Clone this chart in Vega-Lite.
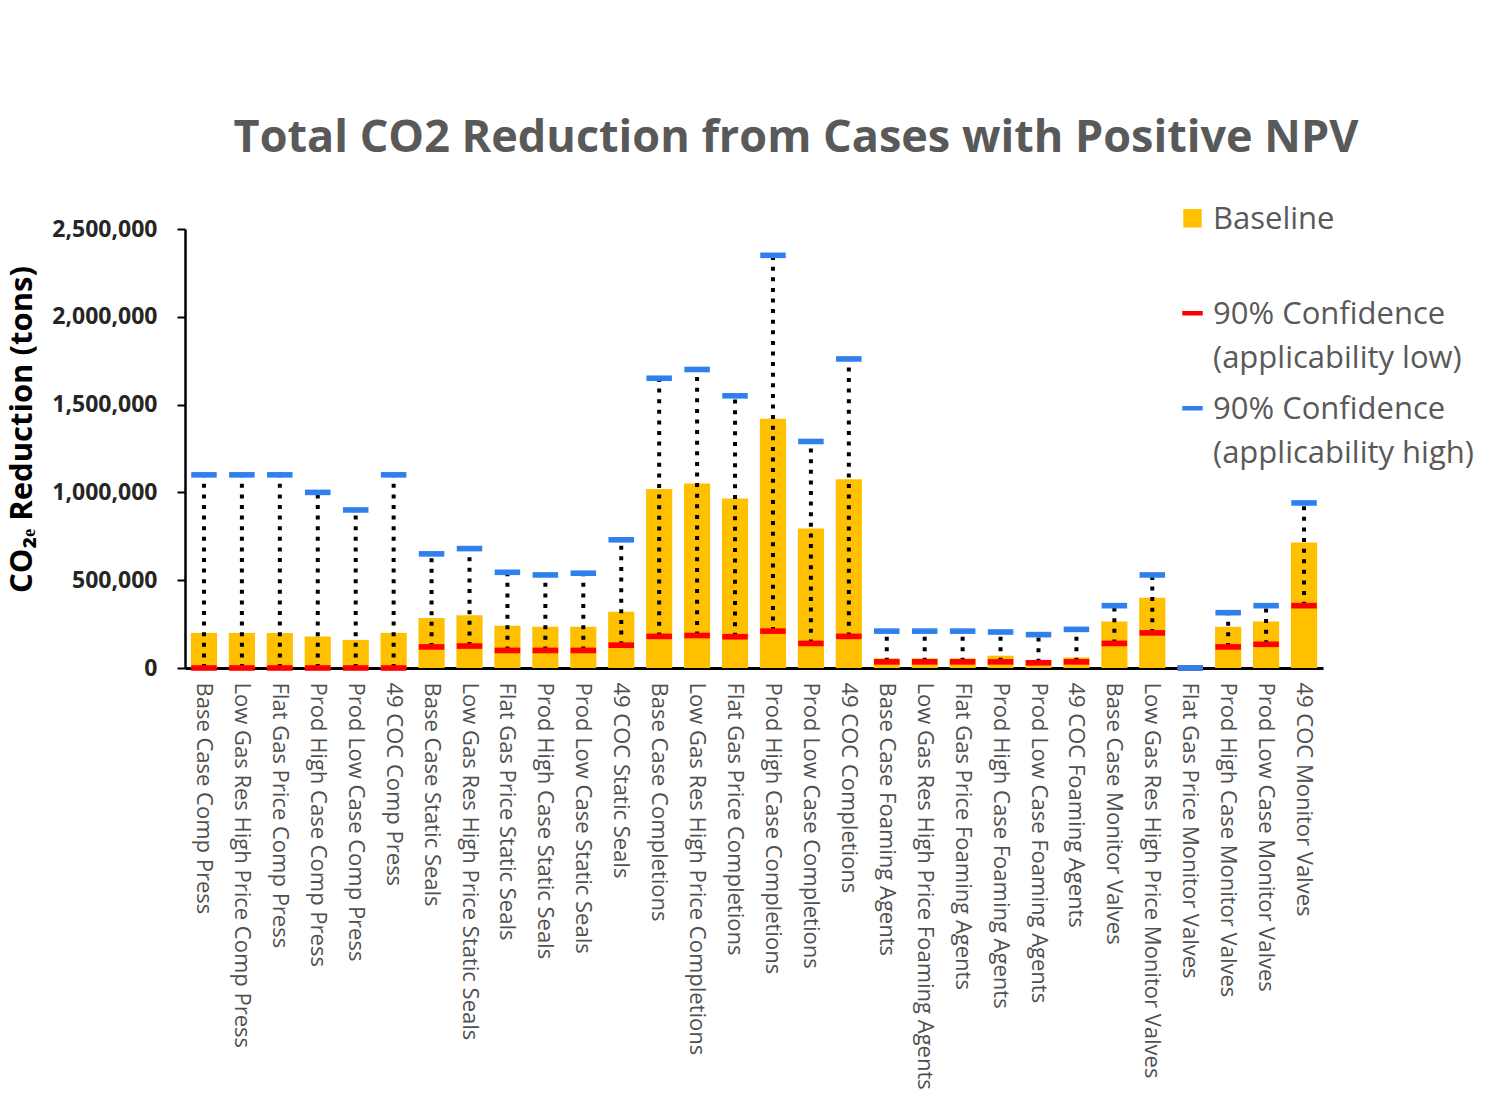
{
  "$schema": "https://vega.github.io/schema/vega-lite/v6.json",
  "autosize": {"type": "none"},
  "width": 1138,
  "height": 439,
  "padding": {"left": 185, "top": 229, "right": 189, "bottom": 431},
  "background": "white",
  "title": {
    "text": "Total CO2 Reduction from Cases with Positive NPV",
    "font": "Open Sans",
    "fontSize": 45,
    "fontWeight": "bold",
    "color": "#595959",
    "anchor": "middle",
    "frame": "group",
    "dx": 42,
    "offset": 52
  },
  "data": {
    "values": [
      {"case": "Base Case Comp Press", "baseline": 200000, "low": 0, "high": 1100000},
      {"case": "Low Gas Res High Price Comp Press", "baseline": 200000, "low": 0, "high": 1100000},
      {"case": "Flat Gas Price Comp Press", "baseline": 200000, "low": 0, "high": 1100000},
      {"case": "Prod High Case Comp Press", "baseline": 180000, "low": 0, "high": 1000000},
      {"case": "Prod Low Case Comp Press", "baseline": 160000, "low": 0, "high": 900000},
      {"case": "49 COC Comp Press", "baseline": 200000, "low": 0, "high": 1100000},
      {"case": "Base Case Static Seals", "baseline": 285000, "low": 120000, "high": 650000},
      {"case": "Low Gas Res High Price Static Seals", "baseline": 300000, "low": 125000, "high": 680000},
      {"case": "Flat Gas Price Static Seals", "baseline": 240000, "low": 100000, "high": 545000},
      {"case": "Prod High Case Static Seals", "baseline": 235000, "low": 100000, "high": 530000},
      {"case": "Prod Low Case Static Seals", "baseline": 235000, "low": 100000, "high": 540000},
      {"case": "49 COC Static Seals", "baseline": 320000, "low": 130000, "high": 730000},
      {"case": "Base Case Completions", "baseline": 1020000, "low": 180000, "high": 1650000},
      {"case": "Low Gas Res High Price Completions", "baseline": 1050000, "low": 185000, "high": 1700000},
      {"case": "Flat Gas Price Completions", "baseline": 965000, "low": 178000, "high": 1550000},
      {"case": "Prod High Case Completions", "baseline": 1420000, "low": 210000, "high": 2350000},
      {"case": "Prod Low Case Completions", "baseline": 795000, "low": 140000, "high": 1290000},
      {"case": "49 COC Completions", "baseline": 1075000, "low": 180000, "high": 1760000},
      {"case": "Base Case Foaming Agents", "baseline": 55000, "low": 35000, "high": 210000},
      {"case": "Low Gas Res High Price Foaming Agents", "baseline": 55000, "low": 35000, "high": 210000},
      {"case": "Flat Gas Price Foaming Agents", "baseline": 55000, "low": 35000, "high": 210000},
      {"case": "Prod High Case Foaming Agents", "baseline": 70000, "low": 35000, "high": 205000},
      {"case": "Prod Low Case Foaming Agents", "baseline": 45000, "low": 30000, "high": 190000},
      {"case": "49 COC Foaming Agents", "baseline": 60000, "low": 35000, "high": 220000},
      {"case": "Base Case Monitor Valves", "baseline": 265000, "low": 140000, "high": 355000},
      {"case": "Low Gas Res High Price Monitor Valves", "baseline": 400000, "low": 200000, "high": 530000},
      {"case": "Flat Gas Price Monitor Valves", "baseline": 0, "low": 0, "high": 0},
      {"case": "Prod High Case Monitor Valves", "baseline": 235000, "low": 120000, "high": 315000},
      {"case": "Prod Low Case Monitor Valves", "baseline": 265000, "low": 135000, "high": 355000},
      {"case": "49 COC Monitor Valves", "baseline": 715000, "low": 355000, "high": 940000}
    ]
  },
  "encoding": {
    "x": {
      "field": "case",
      "type": "nominal",
      "sort": null,
      "scale": {"paddingInner": 0.31, "paddingOuter": 0.155},
      "axis": {
        "title": null,
        "labelAngle": 90,
        "labelAlign": "left",
        "labelBaseline": "middle",
        "labelPadding": 14,
        "ticks": false,
        "domainColor": "black",
        "domainWidth": 3,
        "labelFont": "Open Sans",
        "labelFontSize": 22,
        "labelColor": "#505050",
        "labelLimit": 0,
        "labelOverlap": false
      }
    }
  },
  "layer": [
    {
      "mark": {"type": "bar"},
      "encoding": {
        "y": {
          "field": "baseline",
          "type": "quantitative",
          "scale": {"domain": [0, 2500000], "nice": false},
          "axis": {
            "title": "CO₂ₑ Reduction (tons)",
            "titleFont": "Open Sans",
            "titleFontSize": 31,
            "titleFontWeight": "bold",
            "titleColor": "black",
            "titleX": -163,
            "titleY": 200,
            "titleAngle": -90,
            "titleAlign": "center",
            "titleBaseline": "middle",
            "values": [0, 500000, 1000000, 1500000, 2000000, 2500000],
            "labelExpr": "format(datum.value, ',')",
            "grid": false,
            "labelFont": "Open Sans",
            "labelFontSize": 23,
            "labelFontWeight": "bold",
            "labelColor": "#262626",
            "labelPadding": 20,
            "tickSize": 8,
            "tickColor": "black",
            "tickWidth": 2,
            "domainColor": "black",
            "domainWidth": 2.5
          }
        },
        "color": {
          "datum": "Baseline",
          "type": "nominal",
          "scale": {
            "domain": ["Baseline", "low", "high"],
            "range": ["#FFC000", "#FF0000", "#2F80ED"]
          },
          "legend": {
            "title": null,
            "orient": "none",
            "legendX": 992,
            "legendY": -16,
            "labelExpr": "datum.value == 'low' ? ['90% Confidence', '(applicability low)'] : datum.value == 'high' ? ['90% Confidence', '(applicability high)'] : ['Baseline', '']"
          }
        }
      }
    },
    {
      "mark": {"type": "rule", "color": "black", "strokeWidth": 4, "strokeDash": [4, 6.6]},
      "encoding": {
        "y": {
          "field": "low",
          "type": "quantitative",
          "axis": {
            "title": "CO₂ₑ Reduction (tons)",
            "titleFont": "Open Sans",
            "titleFontSize": 31,
            "titleFontWeight": "bold",
            "titleColor": "black",
            "titleX": -163,
            "titleY": 200,
            "titleAngle": -90,
            "titleAlign": "center",
            "titleBaseline": "middle",
            "values": [0, 500000, 1000000, 1500000, 2000000, 2500000],
            "labelExpr": "format(datum.value, ',')",
            "grid": false,
            "labelFont": "Open Sans",
            "labelFontSize": 23,
            "labelFontWeight": "bold",
            "labelColor": "#262626",
            "labelPadding": 20,
            "tickSize": 8,
            "tickColor": "black",
            "tickWidth": 2,
            "domainColor": "black",
            "domainWidth": 2.5
          }
        },
        "y2": {"field": "high"}
      }
    },
    {
      "transform": [{"fold": ["low", "high"], "as": ["series", "value"]}],
      "mark": {"type": "point", "filled": true, "opacity": 1, "size": 650, "strokeWidth": 0, "yOffset": 12.75},
      "encoding": {
        "y": {
          "field": "value",
          "type": "quantitative",
          "axis": {
            "title": "CO₂ₑ Reduction (tons)",
            "titleFont": "Open Sans",
            "titleFontSize": 31,
            "titleFontWeight": "bold",
            "titleColor": "black",
            "titleX": -163,
            "titleY": 200,
            "titleAngle": -90,
            "titleAlign": "center",
            "titleBaseline": "middle",
            "values": [0, 500000, 1000000, 1500000, 2000000, 2500000],
            "labelExpr": "format(datum.value, ',')",
            "grid": false,
            "labelFont": "Open Sans",
            "labelFontSize": 23,
            "labelFontWeight": "bold",
            "labelColor": "#262626",
            "labelPadding": 20,
            "tickSize": 8,
            "tickColor": "black",
            "tickWidth": 2,
            "domainColor": "black",
            "domainWidth": 2.5
          }
        },
        "color": {"field": "series", "type": "nominal"},
        "shape": {
          "field": "series",
          "type": "nominal",
          "scale": {
            "domain": ["Baseline", "low", "high"],
            "range": ["M-0.9,-1.9L0.9,-1.9L0.9,-0.1L-0.9,-0.1Z", "M-1,-1.22L1,-1.22L1,-0.78L-1,-0.78Z", "M-1,-1.22L1,-1.22L1,-0.78L-1,-0.78Z"]
          },
          "legend": {
            "title": null,
            "orient": "none",
            "legendX": 992,
            "legendY": -16,
            "labelExpr": "datum.value == 'low' ? ['90% Confidence', '(applicability low)'] : datum.value == 'high' ? ['90% Confidence', '(applicability high)'] : ['Baseline', '']"
          }
        }
      }
    }
  ],
  "config": {
    "view": {"stroke": null},
    "style": {"guide-label": {"lineHeight": 44}},
    "legend": {
      "padding": 0,
      "labelFont": "Open Sans",
      "labelFontSize": 31,
      "labelColor": "#595959",
      "labelLimit": 0,
      "labelOffset": 5,
      "labelBaseline": "alphabetic",
      "symbolSize": 420,
      "symbolStrokeWidth": 0,
      "rowPadding": 19
    }
  }
}
